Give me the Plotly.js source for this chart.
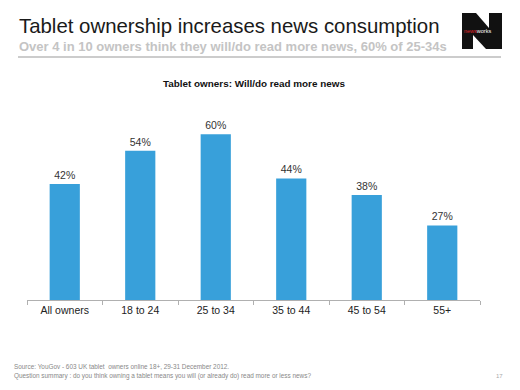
<!DOCTYPE html>
<html><head><meta charset="utf-8">
<script src="https://cdn.plot.ly/plotly-3.0.1.min.js"></script>
<style>html,body{margin:0;padding:0;background:#fff;}#chart{width:520px;height:390px;}</style>
</head><body><div id="chart"></div>
<script>
const categories = ["All owners", "18 to 24", "25 to 34", "35 to 44", "45 to 54", "55+"];
const values = [42, 54, 60, 44, 38, 27];
const valueLabels = ["42%", "54%", "60%", "44%", "38%", "27%"];

const trace = {
  type: "bar",
  x: categories,
  y: values,
  text: valueLabels,
  textposition: "outside",
  cliponaxis: false,
  textfont: {family: "Liberation Sans, Arial, sans-serif", size: 10.5, color: "#333"},
  marker: {color: "#38A0DA"},
  width: 0.4,
  hoverinfo: "skip"
};

const L = 27, W = 453, B = 300, H = 190;
const px = v => (v - L) / W;
const py = v => (B - v) / H;

const layout = {
  width: 520, height: 390,
  margin: {l: 27, r: 40, t: 110, b: 90},
  paper_bgcolor: "#fff", plot_bgcolor: "#fff",
  showlegend: false,
  font: {family: "Liberation Sans, Arial, sans-serif", color: "#222"},
  xaxis: {
    showline: true, linecolor: "#b0b0b0", linewidth: 1,
    ticks: "outside", tickson: "boundaries", ticklen: 4, tickcolor: "#b0b0b0",
    tickfont: {size: 10.5, color: "#222"},
    showgrid: false, zeroline: false
  },
  yaxis: {range: [0, 68.8], visible: false, showgrid: false, zeroline: false},
  shapes: [
    {type: "line", xref: "paper", yref: "paper",
     x0: px(18), x1: px(501), y0: py(57), y1: py(57),
     line: {color: "#9a9a9a", width: 1.2}},
    {type: "rect", xref: "paper", yref: "paper",
     x0: px(462), x1: px(502), y0: py(49), y1: py(13),
     fillcolor: "#111", line: {width: 0}},
    {type: "path", xref: "paper", yref: "paper",
     path: "M " + px(476) + "," + py(13) + " L " + px(489) + "," + py(13) + " L " + px(489) + "," + py(28) + " Z",
     fillcolor: "#fff", line: {width: 0}},
    {type: "path", xref: "paper", yref: "paper",
     path: "M " + px(473) + "," + py(49) + " L " + px(486) + "," + py(49) + " L " + px(473) + "," + py(35) + " Z",
     fillcolor: "#fff", line: {width: 0}}
  ],
  annotations: [
    {text: "Tablet ownership increases news consumption", xref: "paper", yref: "paper",
     x: px(17), y: py(26), xanchor: "left", yanchor: "middle", showarrow: false,
     font: {size: 20.4, color: "#1a1a1a"}},
    {text: "<b>Over 4 in 10 owners think they will/do read more news, 60% of 25-34s</b>", xref: "paper", yref: "paper",
     x: px(17), y: py(46), xanchor: "left", yanchor: "middle", showarrow: false,
     font: {size: 13, color: "#c4c4c4"}},
    {text: "<b>Tablet owners: Will/do read more news</b>", xref: "paper", yref: "paper",
     x: px(253.5), y: py(83), xanchor: "center", yanchor: "middle", showarrow: false,
     font: {size: 9.9, color: "#111"}},
    {text: "<span style='color:#e0262b'>news</span>works", xref: "paper", yref: "paper",
     x: px(477), y: py(31), xanchor: "center", yanchor: "middle", showarrow: false,
     font: {size: 5.5, color: "#fff"}},
    {text: "Source: YouGov - 603 UK tablet  owners online 18+, 29-31 December 2012.", xref: "paper", yref: "paper",
     x: px(12), y: py(366), xanchor: "left", yanchor: "middle", showarrow: false,
     font: {size: 6.4, color: "#888"}},
    {text: "Question summary : do you think owning a tablet means you will (or already do) read more or less news?", xref: "paper", yref: "paper",
     x: px(12), y: py(375.5), xanchor: "left", yanchor: "middle", showarrow: false,
     font: {size: 6.4, color: "#888"}},
    {text: "17", xref: "paper", yref: "paper",
     x: px(499), y: py(375.5), xanchor: "center", yanchor: "middle", showarrow: false,
     font: {size: 6, color: "#aaa"}}
  ]
};

Plotly.newPlot("chart", [trace], layout, {staticPlot: true, displayModeBar: false});
</script>
</body></html>
